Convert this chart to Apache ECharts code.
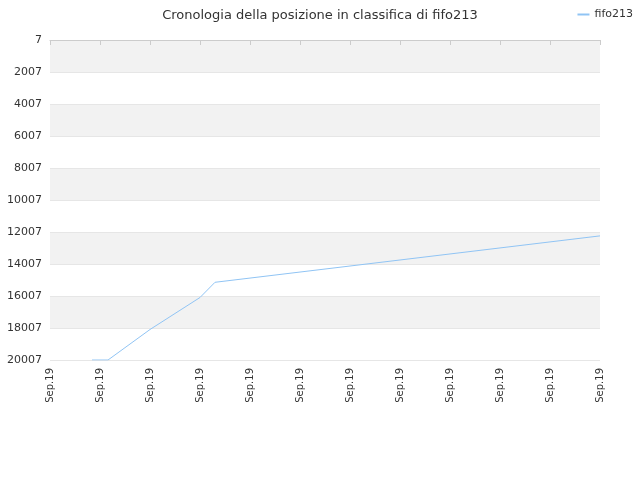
<!DOCTYPE html>
<html><head><meta charset="utf-8">
<script src="https://cdn.jsdelivr.net/npm/echarts@6/dist/echarts.min.js"></script>
<style>html,body{margin:0;padding:0}#c{width:640px;height:480px}</style>
</head><body><div id="c"></div>
<script>
const xLabels = ["Sep.19","Sep.19","Sep.19","Sep.19","Sep.19","Sep.19","Sep.19","Sep.19","Sep.19","Sep.19","Sep.19","Sep.19"];
const xPos = [0.84, 1.16, 2, 3, 3.3, 11];
const ranks = [20007, 20007, 18100, 16100, 15150, 12250];
const yMin = 7, yMax = 20007, yStep = 2000;
const chart = echarts.init(document.getElementById('c'));
chart.setOption({
  animation:false,
  title:{text:'Cronologia della posizione in classifica di fifo213',left:'center',top:4,
    textStyle:{fontSize:13,fontWeight:'normal',color:'#333',fontFamily:'DejaVu Sans'}},
  legend:{right:2,top:4,itemWidth:12,itemHeight:2,icon:'rect',
    textStyle:{fontSize:11,color:'#333',fontFamily:'DejaVu Sans'},data:['fifo213']},
  grid:{left:50,right:40,top:40,bottom:120},
  xAxis:{type:'value',min:0,max:xLabels.length-1,interval:1,
    axisLine:{show:true,lineStyle:{color:'#ccc'}},axisTick:{show:true,lineStyle:{color:'#ccc'}},
    splitLine:{show:false},
    axisLabel:{rotate:90,fontSize:10,color:'#333',fontFamily:'DejaVu Sans',formatter:v=>xLabels[v]}},
  yAxis:{type:'value',inverse:true,min:0,max:yMax-yMin,interval:yStep,
    axisLine:{show:false},axisTick:{show:false},
    splitLine:{show:true,lineStyle:{color:'#e6e6e6'}},
    splitArea:{show:true,areaStyle:{color:['#f2f2f2','#ffffff']}},
    axisLabel:{fontSize:11,color:'#333',fontFamily:'DejaVu Sans',formatter:v=>String(v+yMin)}},
  series:[{name:'fifo213',type:'line',showSymbol:false,
    lineStyle:{color:'#90c4f4',width:1},itemStyle:{color:'#90c4f4'},
    data:xPos.map((x,i)=>[x,ranks[i]-yMin])}]
});
</script></body></html>
